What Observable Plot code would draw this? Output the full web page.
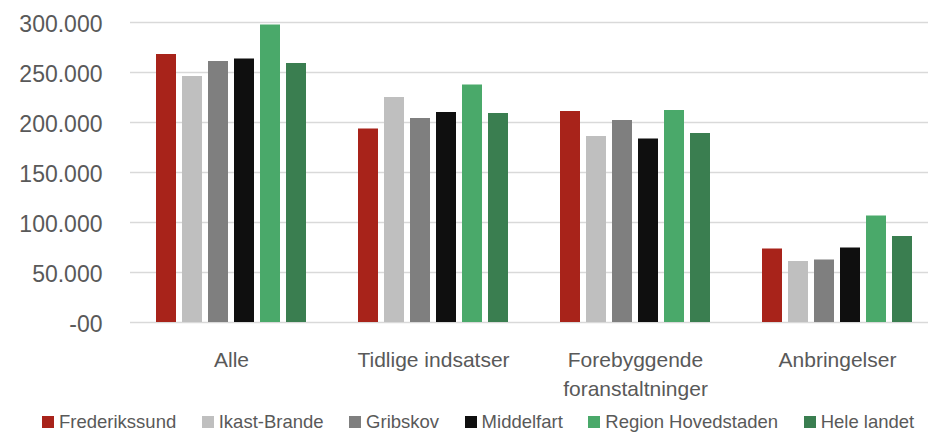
<!DOCTYPE html>
<html><head><meta charset="utf-8">
<script src="https://cdn.jsdelivr.net/npm/d3@7"></script>
<script src="https://cdn.jsdelivr.net/npm/@observablehq/plot@0.6"></script>
<style>
html,body{margin:0;padding:0;background:#fff;overflow:hidden;width:928px;height:433px}
#wrap{position:relative;width:928px;height:433px}
#legend{position:absolute;left:42px;top:412px;display:flex;gap:25.5px;font-family:"Liberation Sans",Arial,sans-serif;font-size:18.5px;color:#595959;line-height:20px;height:20px;white-space:nowrap}
.item{display:flex;align-items:center}
.sw{width:12px;height:12px;margin-right:5px;flex:none}
</style></head><body><div id="wrap"><div id="chart"></div><div id="legend"></div></div>
<script>
const categories = ["Alle", "Tidlige indsatser", "Forebyggende foranstaltninger", "Anbringelser"];
const categoryLabels = ["Alle", "Tidlige indsatser", "Forebyggende\nforanstaltninger", "Anbringelser"];
const series = ["Frederikssund", "Ikast-Brande", "Gribskov", "Middelfart", "Region Hovedstaden", "Hele landet"];
const colors = ["#a8231a", "#bfbfbf", "#7f7f7f", "#0f0f0f", "#4aa96a", "#3a7e50"];
const frederikssund = [268000, 193500, 211000, 73500];
const ikastBrande = [246000, 225000, 186000, 61000];
const gribskov = [261000, 204000, 202000, 62500];
const middelfart = [263500, 210000, 183500, 74500];
const regionHovedstaden = [297500, 237500, 212000, 106500];
const heleLandet = [259000, 209000, 189000, 86000];
const yTicks = [0, 50000, 100000, 150000, 200000, 250000, 300000];

const seriesValues = [frederikssund, ikastBrande, gribskov, middelfart, regionHovedstaden, heleLandet];
const rows = [];
categories.forEach((c, i) => series.forEach((s, j) => rows.push({category: c, series: s, value: seriesValues[j][i]})));

const fmtY = d => d === 0 ? "-00" : d3.format(",")(d).replace(/,/g, ".");

const chart = Plot.plot({
  width: 928,
  height: 400,
  marginLeft: 128,
  marginRight: 0,
  marginTop: 22,
  marginBottom: 78,
  style: {fontFamily: "'Liberation Sans', Arial, sans-serif", color: "#595959", background: "transparent"},
  fx: {domain: categories, range: [128.2, 939], padding: 0},
  x: {domain: series, paddingInner: 0.22, paddingOuter: 0.865, axis: null},
  y: {domain: [0, 300000]},
  color: {domain: series, range: colors},
  marks: [
    Plot.gridY(yTicks, {stroke: "#d9d9d9", strokeOpacity: 1, strokeWidth: 1.4}),
    Plot.barY(rows, {fx: "category", x: "series", y: "value", fill: "series"}),
    Plot.axisY({ticks: yTicks, tickSize: 0, tickPadding: 28, tickFormat: fmtY, fontSize: 23, dy: 2, label: null, fill: "#595959"}),
    Plot.axisFx({anchor: "bottom", tickSize: 0, tickPadding: 24, fontSize: 21, lineHeight: 1.38, label: null, fill: "#595959",
      tickFormat: d => categoryLabels[categories.indexOf(d)]})
  ]
});
document.getElementById("chart").appendChild(chart);

const legend = document.getElementById("legend");
series.forEach((s, i) => {
  const item = document.createElement("div");
  item.className = "item";
  const sw = document.createElement("span");
  sw.className = "sw";
  sw.style.background = colors[i];
  const t = document.createElement("span");
  t.textContent = s;
  item.appendChild(sw);
  item.appendChild(t);
  legend.appendChild(item);
});
</script></body></html>
